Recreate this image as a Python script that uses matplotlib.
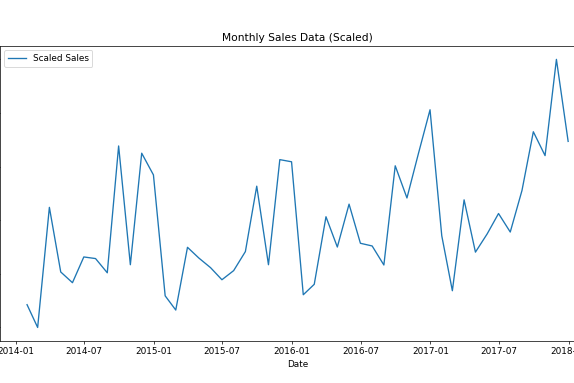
import matplotlib as mp
mp.use('Agg')

import matplotlib.pyplot as plt
import pandas as pd

# month-end dates, Jan 2014 .. Dec 2017
dates = pd.date_range('2014-01-31', periods=48, freq='ME')
scaled_sales = [
    0.085, 0.000, 0.448, 0.207, 0.167, 0.263, 0.257, 0.204, 0.677, 0.234, 0.650, 0.569,
    0.118, 0.065, 0.299, 0.259, 0.223, 0.178, 0.212, 0.283, 0.527, 0.234, 0.626, 0.618,
    0.122, 0.161, 0.413, 0.300, 0.460, 0.314, 0.304, 0.233, 0.603, 0.483, 0.647, 0.812,
    0.342, 0.137, 0.476, 0.281, 0.349, 0.425, 0.356, 0.511, 0.730, 0.641, 1.000, 0.694,
]

# the reference is a crop of a 12x6 in figure at 64 dpi
dpi = 64
fig = plt.figure(figsize=(574 / dpi, 383 / dpi), dpi=dpi)
ax = fig.add_axes([0.0, 0.11, 595.2 / 574, 0.77])

ax.plot(dates, scaled_sales, label='Scaled Sales')
ax.set_title('Monthly Sales Data (Scaled)')
ax.set_xlabel('Date')
ax.legend(loc='upper left')

fig.savefig('out.png', dpi=dpi)
